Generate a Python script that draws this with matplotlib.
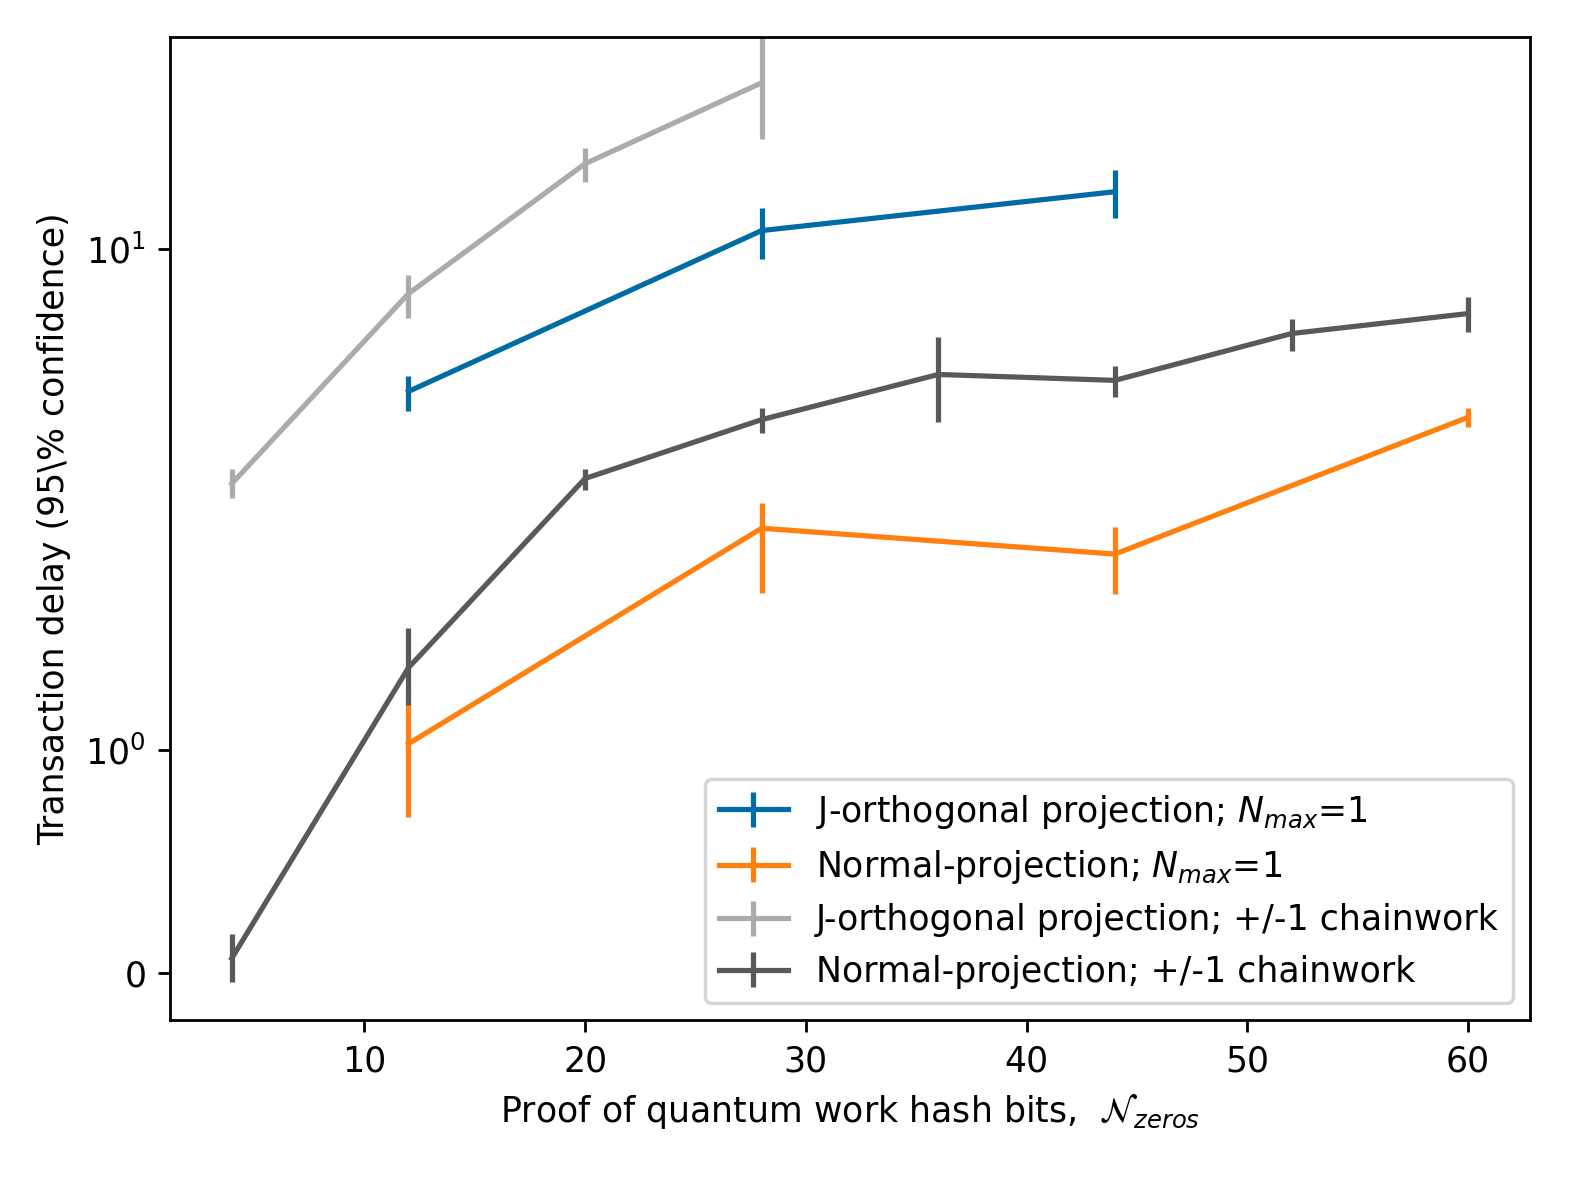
import numpy as np
import matplotlib
matplotlib.use('Agg')
import matplotlib.pyplot as plt

plt.style.use('tableau-colorblind10')

# J-orthogonal projection, N_max = 1
x_jo = [12, 28, 44]
y_jo = [5.19, 10.86, 12.98]
lo_jo = [4.75, 9.55, 11.53]
hi_jo = [5.58, 12.06, 14.36]

# Normal projection, N_max = 1
x_np = [12, 28, 44, 60]
y_np = [1.03, 2.77, 2.46, 4.61]
lo_np = [0.70, 2.06, 2.05, 4.40]
hi_np = [1.30, 3.11, 2.79, 4.80]

# J-orthogonal projection, +/-1 chainwork
x_jo_cw = [4, 12, 20, 28]
y_jo_cw = [3.40, 8.13, 14.76, 21.4]
lo_jo_cw = [3.18, 7.28, 13.59, 16.5]
hi_jo_cw = [3.63, 8.87, 15.88, 26.3]

# Normal projection, +/-1 chainwork
x_np_cw = [4, 12, 20, 28, 36, 44, 52, 60]
y_np_cw = [0.067, 1.46, 3.48, 4.56, 5.61, 5.46, 6.77, 7.42]
lo_np_cw = [-0.041, 1.23, 3.30, 4.28, 4.52, 5.05, 6.26, 6.83]
hi_np_cw = [0.175, 1.75, 3.63, 4.80, 6.65, 5.82, 7.22, 8.02]

labels = [r'J-orthogonal projection; $N_{max}$=1',
          r'Normal-projection; $N_{max}$=1',
          'J-orthogonal projection; +/-1 chainwork',
          'Normal-projection; +/-1 chainwork']

series = [(x_jo, y_jo, lo_jo, hi_jo),
          (x_np, y_np, lo_np, hi_np),
          (x_jo_cw, y_jo_cw, lo_jo_cw, hi_jo_cw),
          (x_np_cw, y_np_cw, lo_np_cw, hi_np_cw)]

fig = plt.figure(figsize=(1577 / 250, 1183 / 250), dpi=250)
ax = fig.add_axes([0.1078, 0.1378, 0.8624, 0.8309])

for (x, y, lo, hi), lab in zip(series, labels):
    y = np.array(y)
    yerr = [y - np.array(lo), np.array(hi) - y]
    ax.errorbar(x, y, yerr=yerr, label=lab)

ax.set_yscale('symlog', linthresh=1, linscale=0.4)
ax.set_ylim(-0.21, 26.4)
ax.set_xlim(1.2, 62.8)
ax.set_xlabel(r'Proof of quantum work hash bits,  $\mathcal{N}_{zeros}$')
ax.set_ylabel('Transaction delay (95\\% confidence)')
ax.legend(loc='lower right')

fig.savefig('out.png', dpi=250)
